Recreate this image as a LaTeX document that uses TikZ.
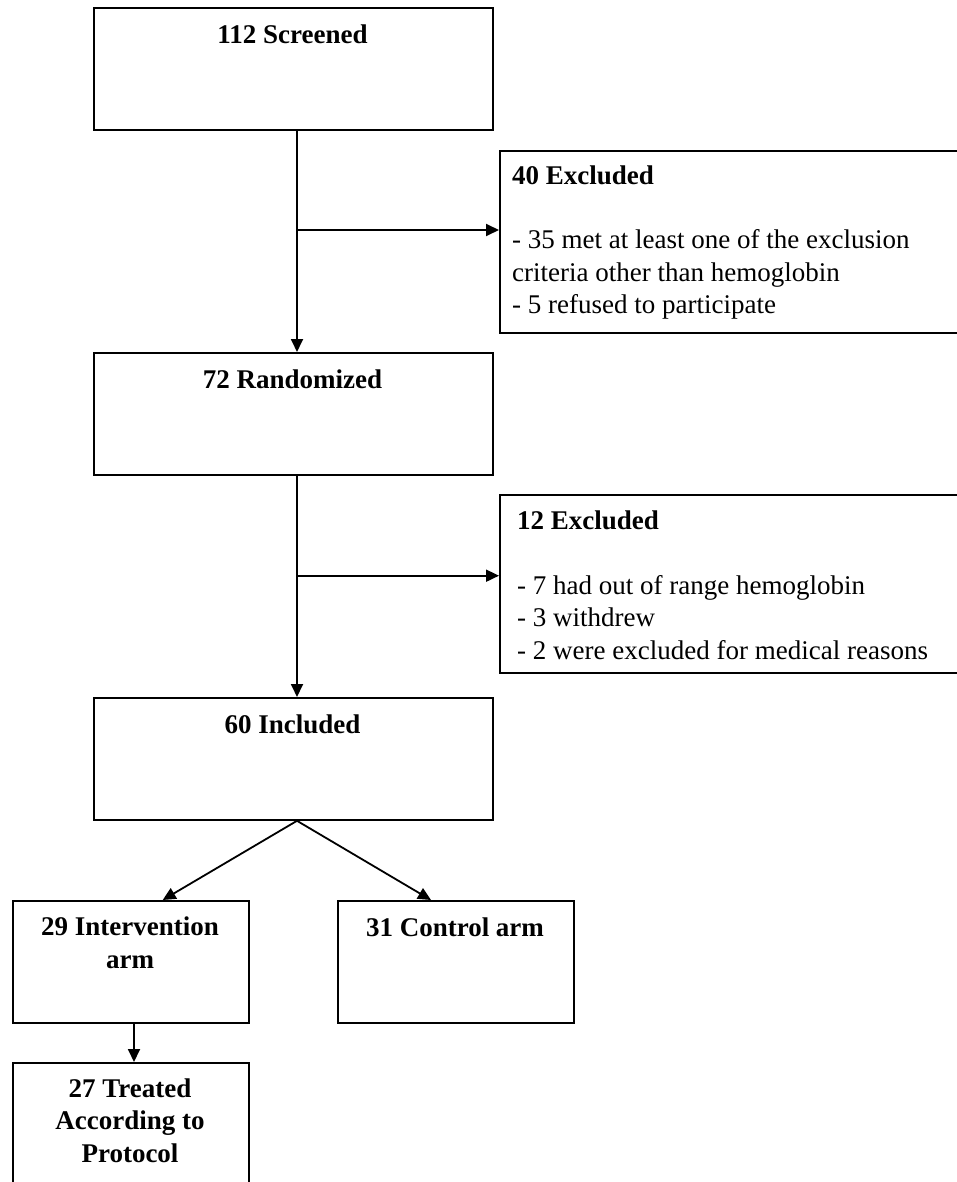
\documentclass[tikz,border=0pt]{standalone}
\usepackage{fontspec}
\setmainfont{Liberation Serif}
\usetikzlibrary{arrows.meta,calc}
\begin{document}
\begin{tikzpicture}[x=1pt,y=-1pt,
  box/.style={draw=black, line width=1.8pt, rectangle, inner sep=0pt, anchor=north west},
  arr/.style={line width=1.8pt, -{Triangle[length=13pt,width=12pt]}},
  hd/.style={font=\fontsize{27}{32.3}\selectfont\bfseries, anchor=base, align=center, inner sep=0pt},
  bd/.style={font=\fontsize{27}{32.3}\selectfont, anchor=base west, align=left, inner sep=0pt}]
\clip (0,0) rectangle (957,1182);
% boxes
\node[box, minimum width=399pt, minimum height=122pt] (b1) at (93,7) {};
\node[box, minimum width=461pt, minimum height=182pt] (ex1) at (499,150) {};
\node[box, minimum width=399pt, minimum height=122pt] (b2) at (93,352) {};
\node[box, minimum width=461pt, minimum height=178pt] (ex2) at (499,494) {};
\node[box, minimum width=399pt, minimum height=122pt] (b3) at (93,697) {};
\node[box, minimum width=236pt, minimum height=122pt] (arm1) at (12,900) {};
\node[box, minimum width=236pt, minimum height=122pt] (arm2) at (337,900) {};
\node[box, minimum width=236pt, minimum height=150pt] (tr) at (12,1062) {};
% texts (anchor=base is the baseline of the last line)
\node[hd] (t1) at (292.5,43.3) {112 Screened};
\node[hd] (t2) at (292.5,388.3) {72 Randomized};
\node[hd] (t3) at (292.5,733.7) {60 Included};
\node[hd] (t4) at (130,968) {29 Intervention\\arm};
\node[hd] (t5) at (455,936) {31 Control arm};
\node[hd] (t6) at (130,1162) {27 Treated\\According to\\Protocol};
\node[bd] (t7) at (512,313.3) {\textbf{40 Excluded}\\ \mbox{}\\- 35 met at least one of the exclusion\\criteria other than hemoglobin\\- 5 refused to participate};
\node[bd] (t8) at (517,659) {\textbf{12 Excluded}\\ \mbox{}\\- 7 had out of range hemoglobin\\- 3 withdrew\\- 2 were excluded for medical reasons};
% connectors
\coordinate (j1) at (297,230);
\coordinate (j2) at (297,575.7);
\draw[arr] (b1.south -| j1) -- (b2.north -| j1);
\draw[arr] (j1) -- (j1 -| ex1.west);
\draw[arr] (b2.south -| j2) -- (b3.north -| j2);
\draw[arr] (j2) -- (j2 -| ex2.west);
\draw[arr] (b3.south -| j1) -- ($(arm1.north west)+(150.7,0)$);
\draw[arr] (b3.south -| j1) -- ($(arm2.north west)+(94,0)$);
\draw[arr] ($(arm1.south west)+(122,0)$) -- ($(tr.north west)+(122,0)$);
\end{tikzpicture}
\end{document}
